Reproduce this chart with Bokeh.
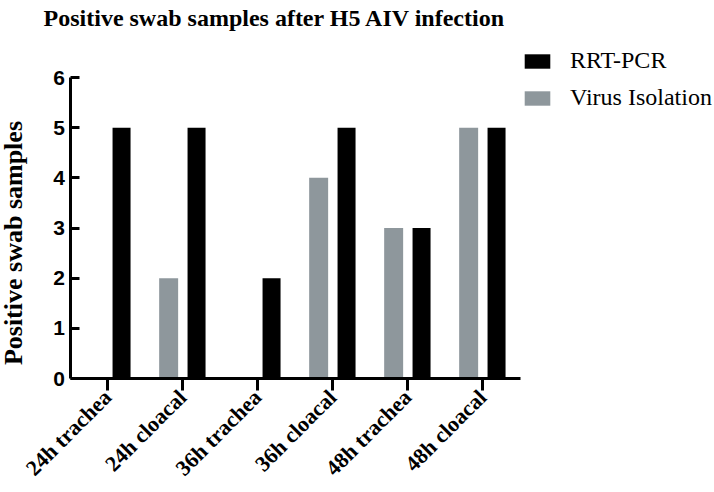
import math
from bokeh.plotting import figure
from bokeh.models import (Label, Legend, LegendItem, Range1d, FixedTicker, LinearAxis,
                          ColumnDataSource)
from bokeh.transform import dodge
from bokeh.embed import file_html
from bokeh.resources import INLINE

categories = ["24h trachea", "24h cloacal", "36h trachea", "36h cloacal", "48h trachea", "48h cloacal"]
rrt_pcr = [5, 5, 2, 5, 3, 5]
virus_isolation = [0, 2, 0, 4, 3, 5]
y_ticks = [0, 1, 2, 3, 4, 5, 6]

title_text = "Positive swab samples after H5 AIV infection"
y_label = "Positive swab samples"

positions = [i + 0.5 for i in range(len(categories))]
source = ColumnDataSource(dict(pos=positions, cat=categories, rrt=rrt_pcr, vi=virus_isolation))

p = figure(x_range=Range1d(-0.927, 8.593), y_range=Range1d(-2.272, 7.535),
           width=714, height=492, output_backend="svg", toolbar_location=None,
           x_axis_location=None, y_axis_location=None,
           min_border_left=0, min_border_top=0, min_border_bottom=0, min_border_right=0)
p.outline_line_color = None
p.xgrid.visible = False
p.ygrid.visible = False

gray = "#8e979c"
r_vi = p.vbar(x=dodge("pos", -0.185), top="vi", width=0.253, source=source,
              fill_color=gray, line_color=None)
r_rrt = p.vbar(x=dodge("pos", 0.187), top="rrt", width=0.24, source=source,
               fill_color="black", line_color=None)

# y axis at x = 0
yax = LinearAxis(fixed_location=0, bounds=(0, 6))
yax.ticker = FixedTicker(ticks=y_ticks)
yax.axis_line_width = 3
yax.major_tick_line_width = 3
yax.major_tick_in = 9
yax.major_tick_out = 0
yax.minor_tick_line_color = None
yax.major_label_text_font = "Liberation Sans"
yax.major_label_text_font_style = "bold"
yax.major_label_text_font_size = "21px"
yax.major_label_text_color = "black"
yax.major_label_standoff = 5
p.add_layout(yax, "left")

# x axis at y = 0
xax = LinearAxis(fixed_location=0, bounds=(0, len(categories)))
xax.ticker = FixedTicker(ticks=positions)
xax.major_label_overrides = {pos: cat for pos, cat in zip(positions, categories)}
xax.axis_line_width = 3
xax.major_tick_line_width = 3
xax.major_tick_in = 0
xax.major_tick_out = 12
xax.minor_tick_line_color = None
xax.major_label_orientation = math.pi / 4
xax.major_label_text_font = "Liberation Serif"
xax.major_label_text_font_style = "bold"
xax.major_label_text_font_size = "22px"
xax.major_label_text_color = "black"
xax.major_label_standoff = 3
p.add_layout(xax, "below")

# title
p.add_layout(Label(x=-0.353, y=7.195, text=title_text, text_font="Liberation Serif",
                   text_font_style="bold", text_font_size="24px", text_color="black",
                   text_baseline="alphabetic", text_align="left"))
# y axis label
p.add_layout(Label(x=-0.755, y=2.70, text=y_label, angle=math.pi / 2, text_font="Liberation Serif",
                   text_font_style="bold", text_font_size="26px", text_color="black",
                   text_baseline="middle", text_align="center"))

legend = Legend(items=[LegendItem(label="RRT-PCR", renderers=[r_rrt]),
                       LegendItem(label="Virus Isolation", renderers=[r_vi])],
                location=(521, 381), padding=0, margin=0, border_line_color=None,
                background_fill_alpha=0, glyph_width=32, glyph_height=18,
                label_standoff=17, spacing=10, label_text_font="Liberation Serif",
                label_text_font_size="24px", label_text_color="black")
p.add_layout(legend, "center")

open("out.html", "w").write(file_html(p, INLINE))
